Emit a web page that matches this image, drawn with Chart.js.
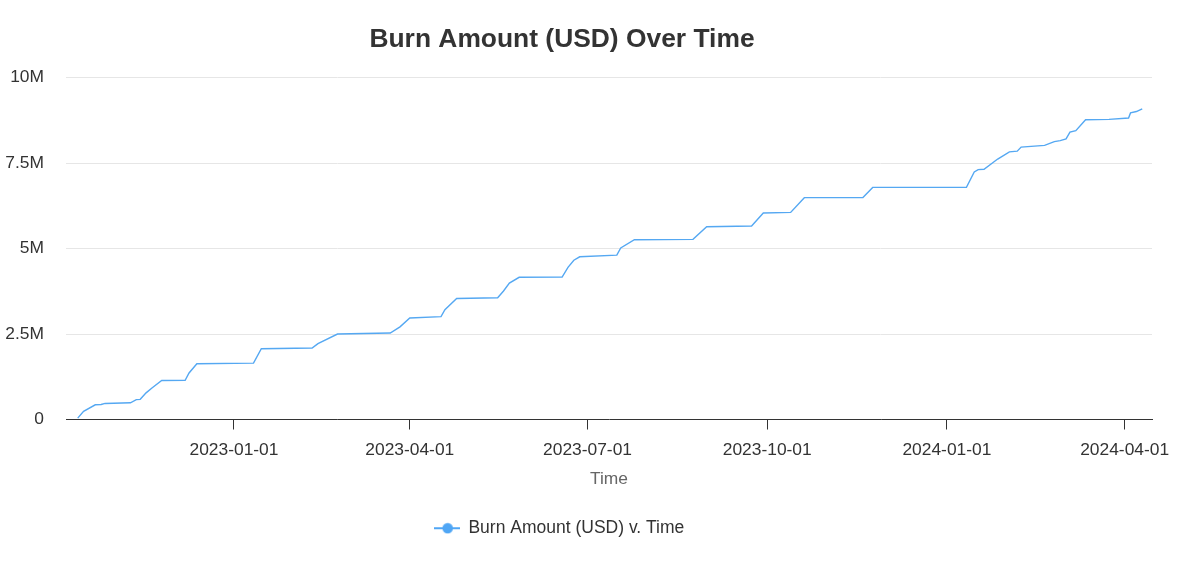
<!DOCTYPE html>
<html>
<head>
<meta charset="utf-8">
<script src="https://cdn.jsdelivr.net/npm/chart.js@4.4.1/dist/chart.umd.min.js"></script>
<style>
  html, body { margin: 0; padding: 0; background: #ffffff; }
  #wrap { width: 1200px; height: 571px; position: relative; }
</style>
</head>
<body>
<div id="wrap"><canvas id="chart"></canvas></div>
<script>
// ---- data ----
const chartTitle = 'Burn Amount (USD) Over Time';
const seriesLabel = 'Burn Amount (USD) v. Time';
const xAxisTitle = 'Time';

const burnDates = [
  '2022-10-13','2022-10-16','2022-10-22','2022-10-25','2022-10-27','2022-11-09','2022-11-12','2022-11-14',
  '2022-11-17','2022-11-20','2022-11-25','2022-12-07','2022-12-09','2022-12-13','2023-01-11','2023-01-15',
  '2023-02-10','2023-02-13','2023-02-23','2023-03-22','2023-03-27','2023-04-01','2023-04-17','2023-04-19',
  '2023-04-25','2023-05-16','2023-05-19','2023-05-22','2023-05-27','2023-06-18','2023-06-21','2023-06-24',
  '2023-06-27','2023-07-16','2023-07-18','2023-07-25','2023-08-24','2023-08-31','2023-09-23','2023-09-29',
  '2023-10-13','2023-10-20','2023-11-19','2023-11-24','2024-01-11','2024-01-15','2024-01-17','2024-01-20',
  '2024-01-27','2024-02-02','2024-02-06','2024-02-08','2024-02-20','2024-02-25','2024-02-28','2024-03-02',
  '2024-03-04','2024-03-07','2024-03-12','2024-03-24','2024-04-03','2024-04-04','2024-04-07','2024-04-10'
];
const burnValues = [
  40000, 240000, 430000, 440000, 470000, 490000, 580000, 590000,
  780000, 920000, 1140000, 1145000, 1360000, 1630000, 1650000, 2070000,
  2090000, 2220000, 2500000, 2530000, 2710000, 2970000, 3010000, 3210000,
  3540000, 3560000, 3760000, 3990000, 4160000, 4165000, 4450000, 4660000,
  4760000, 4810000, 5020000, 5260000, 5270000, 5640000, 5660000, 6040000,
  6060000, 6490000, 6495000, 6790000, 6795000, 7240000, 7310000, 7320000,
  7620000, 7830000, 7850000, 7970000, 8020000, 8130000, 8160000, 8210000,
  8410000, 8450000, 8770000, 8780000, 8820000, 8970000, 9010000, 9090000
];

const xTickDates = ['2023-01-01','2023-04-01','2023-07-01','2023-10-01','2024-01-01','2024-04-01'];
const xRange = ['2022-10-07','2024-04-15'];
const yTickValues = [0, 2500000, 5000000, 7500000, 10000000];
const yTickLabels = ['0', '2.5M', '5M', '7.5M', '10M'];

// ---- helpers ----
const toMs = s => Date.parse(s + 'T00:00:00Z');
const FONT = "'Liberation Sans', Arial, Helvetica, sans-serif";
const LINE_COLOR = '#55a8f2';

const points = burnDates.map((d, i) => ({ x: toMs(d), y: burnValues[i] }));

// legend marker: short line with a dot
const marker = document.createElement('canvas');
marker.width = 26; marker.height = 12;
(function () {
  const c = marker.getContext('2d');
  c.strokeStyle = '#4fa6f5';
  c.lineWidth = 2;
  c.beginPath(); c.moveTo(0, 6); c.lineTo(26, 6); c.stroke();
  c.fillStyle = '#4fa6f5';
  c.beginPath(); c.arc(14, 6, 5.3, 0, Math.PI * 2); c.fill();
})();

const shiftPlugin = {
  id: 'shiftBlocks',
  afterLayout(chart) {
    if (chart.titleBlock) { chart.titleBlock.left = 0; chart.titleBlock.right = 1124; }
    if (chart.legend) { chart.legend.left = 0; chart.legend.right = 1118; }
  }
};

new Chart(document.getElementById('chart'), {
  type: 'line',
  data: {
    datasets: [{
      label: seriesLabel,
      data: points,
      borderColor: LINE_COLOR,
      backgroundColor: LINE_COLOR,
      borderWidth: 1.4,
      pointRadius: 0,
      pointHoverRadius: 0,
      tension: 0,
      fill: false
    }]
  },
  options: {
    responsive: true,
    maintainAspectRatio: false,
    animation: false,
    layout: { padding: { left: 0, right: 48, top: 0, bottom: 24 } },
    plugins: {
      title: {
        display: true,
        text: chartTitle,
        color: '#333333',
        font: { family: FONT, size: 26.4, weight: 'bold' },
        padding: { top: 24, bottom: 22 }
      },
      legend: {
        display: true,
        position: 'bottom',
        labels: {
          color: '#333333',
          font: { family: FONT, size: 17.5 },
          usePointStyle: true,
          pointStyleWidth: 26,
          padding: 10,
          generateLabels: (chart) => [{
            text: seriesLabel,
            pointStyle: marker,
            fillStyle: LINE_COLOR,
            strokeStyle: LINE_COLOR,
            fontColor: '#333333',
            lineWidth: 0,
            hidden: false,
            datasetIndex: 0
          }]
        }
      },
      tooltip: { enabled: false }
    },
    scales: {
      x: {
        type: 'linear',
        min: toMs(xRange[0]),
        max: toMs(xRange[1]),
        afterBuildTicks: (axis) => { axis.ticks = xTickDates.map(d => ({ value: toMs(d) })); },
        afterFit: (axis) => { axis.height = 90; },
        ticks: {
          autoSkip: false,
          maxRotation: 0,
          padding: 10,
          color: '#333333',
          font: { family: FONT, size: 17.4 },
          callback: (v) => { const i = xTickDates.findIndex(d => toMs(d) === v); return i >= 0 ? xTickDates[i] : ''; }
        },
        grid: { display: true, drawOnChartArea: false, drawTicks: true, tickLength: 10, color: '#333333', lineWidth: 1 },
        border: { display: true, color: '#333333', width: 1 },
        title: {
          display: true,
          text: xAxisTitle,
          color: '#666666',
          font: { family: FONT, size: 17.4 },
          padding: { top: 4, bottom: 19.5 }
        }
      },
      y: {
        type: 'linear',
        min: 0,
        max: 10000000,
        afterBuildTicks: (axis) => { axis.ticks = yTickValues.map(v => ({ value: v })); },
        afterFit: (axis) => { axis.width = 66; },
        ticks: {
          padding: 22,
          color: '#333333',
          font: { family: FONT, size: 17.4 },
          callback: (v) => { const i = yTickValues.indexOf(v); return i >= 0 ? yTickLabels[i] : ''; }
        },
        grid: { color: '#e6e6e6', lineWidth: 1, drawTicks: false },
        border: { display: false }
      }
    }
  },
  plugins: [shiftPlugin]
});
</script>
</body>
</html>
